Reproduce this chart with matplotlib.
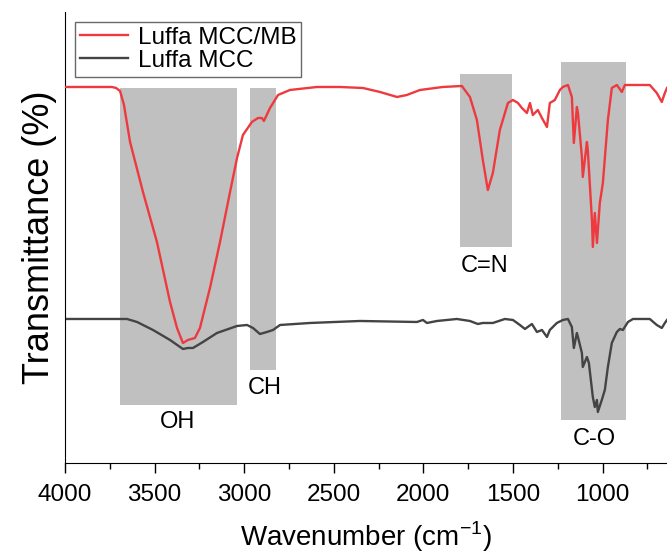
import matplotlib.pyplot as plt
from matplotlib.ticker import MultipleLocator

plt.rcParams['font.family'] = ['Liberation Sans', 'DejaVu Sans']
plt.rcParams['mathtext.fontset'] = 'custom'
plt.rcParams['mathtext.rm'] = 'Liberation Sans'

# Luffa MCC/MB spectrum (wavenumber, transmittance a.u.)
wn_mb = [4000, 3860, 3738, 3715, 3693, 3671, 3637, 3565, 3487, 3414, 3375, 3342, 3314,
         3275, 3247, 3191, 3135, 3079, 3040, 3007, 2957, 2923, 2901, 2890, 2856, 2811,
         2745, 2594, 2466, 2337, 2242, 2147, 2092, 2019, 1891, 1785, 1740, 1701, 1668,
         1640, 1612, 1573, 1528, 1500, 1472, 1450, 1422, 1405, 1389, 1361, 1338, 1310,
         1294, 1266, 1238, 1221, 1193, 1171, 1160, 1143, 1137, 1115, 1110, 1087, 1082,
         1059, 1054, 1043, 1031, 1015, 998, 970, 948, 920, 892, 875, 736, 697, 669, 652, 640]
t_mb = [376, 376, 376, 375, 372, 358, 321, 271, 221, 161, 135, 120, 123,
        125, 135, 175, 221, 271, 305, 328, 341, 345, 345, 342, 355, 368,
        373, 376, 376, 375, 371, 366, 368, 373, 376, 377, 366, 343, 303,
        273, 290, 333, 360, 363, 360, 355, 350, 360, 348, 353, 345, 336,
        360, 363, 373, 376, 378, 366, 320, 356, 350, 306, 286, 321, 313,
        243, 216, 250, 220, 260, 280, 343, 375, 378, 371, 378, 378, 370, 361, 370, 375]

# Luffa MCC spectrum
wn_mcc = [4000, 3844, 3654, 3598, 3509, 3414, 3342, 3314, 3286, 3230, 3152, 3040, 2984,
          2951, 2912, 2873, 2839, 2800, 2633, 2354, 2036, 2002, 1980, 1924, 1813, 1740,
          1696, 1668, 1612, 1545, 1500, 1461, 1433, 1394, 1366, 1338, 1310, 1294, 1255,
          1221, 1193, 1171, 1160, 1143, 1137, 1115, 1110, 1087, 1076, 1054, 1043, 1031,
          1026, 1004, 987, 970, 948, 920, 903, 886, 858, 830, 736, 697, 669, 652, 640]
t_mcc = [144, 144, 144, 141, 133, 123, 114, 115, 115, 121, 130, 137, 138,
         135, 129, 131, 133, 138, 140, 142, 141, 143, 140, 142, 144, 142,
         139, 140, 140, 144, 143, 138, 134, 139, 131, 133, 126, 133, 140,
         143, 144, 136, 115, 130, 126, 110, 96, 106, 100, 66, 56, 63,
         51, 63, 73, 96, 120, 131, 134, 133, 141, 144, 144, 138, 135, 140, 143]

# shaded band assignments
bands = ['OH', 'CH', 'C=N', 'C-O']
band_lo = [3693, 2968, 1796, 1232]
band_hi = [3040, 2823, 1506, 869]
band_bottom = [58, 93, 216, 43]
band_top = [375, 375, 389, 401]
label_wn = [3370, 2884, 1656, 1043]
label_t = [41, 75, 197, 24]

fig = plt.figure(figsize=(6.67, 5.55), dpi=100)
ax = fig.add_axes([0.0975, 0.1658, 0.9025, 0.8126])

for i in range(len(bands)):
    ax.fill_between([band_lo[i], band_hi[i]], band_bottom[i], band_top[i],
                    color='#c0c0c0', lw=0, zorder=1)
    ax.text(label_wn[i], label_t[i], bands[i], ha='center', va='center', fontsize=17)

ax.plot(wn_mb, t_mb, color='#ee3a3f', lw=1.7, label='Luffa MCC/MB', zorder=3)
ax.plot(wn_mcc, t_mcc, color='#444444', lw=1.7, label='Luffa MCC', zorder=2)

ax.set_xlim(4000, 640)
ax.set_ylim(0, 451)
ax.xaxis.set_major_locator(MultipleLocator(500))
ax.xaxis.set_minor_locator(MultipleLocator(250))
ax.tick_params(axis='x', which='major', direction='out', length=7, width=1,
               labelsize=17.5, pad=8)
ax.tick_params(axis='x', which='minor', direction='out', length=4, width=1)
ax.set_yticks([])
ax.spines['top'].set_visible(False)
ax.spines['right'].set_visible(False)
ax.set_xlabel('Wavenumber (cm$^{-1}$)', fontsize=20, labelpad=10)
ax.set_ylabel('Transmittance (%)', fontsize=26, labelpad=6)

leg = ax.legend(loc='upper left', fontsize=17.5, frameon=True, fancybox=False,
                edgecolor='#444444', borderaxespad=0.4, handlelength=2.0,
                borderpad=0.2, labelspacing=0.05, handletextpad=0.4)
leg.get_frame().set_linewidth(1.0)

fig.savefig('out.png', dpi=100)
